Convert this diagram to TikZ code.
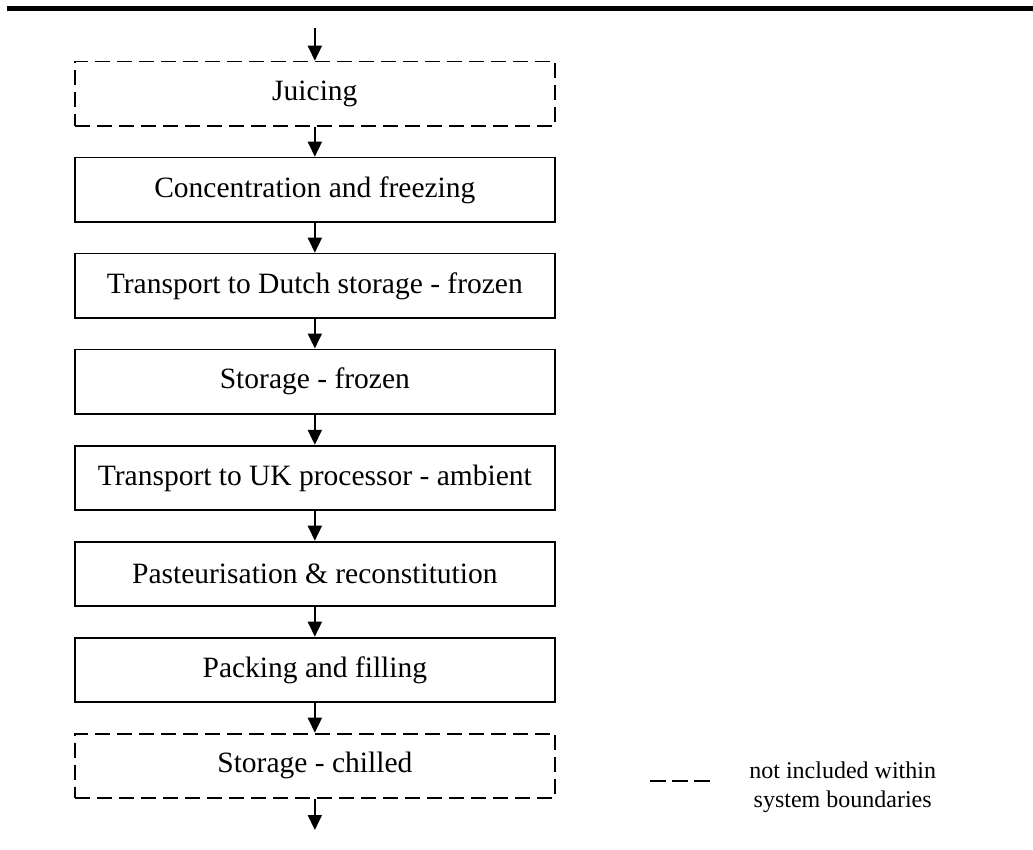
\documentclass[tikz,border=0pt]{standalone}
\usepackage{fontspec}
\setmainfont{Liberation Serif}
\usetikzlibrary{arrows.meta}
\begin{document}
\begin{tikzpicture}[x=1pt,y=-1pt,
  stepbox/.style={draw, line width=1.8pt, minimum width=480.3pt, minimum height=64.5pt,
    inner sep=0pt, anchor=north, font=\fontsize{29.5}{34}\selectfont},
  outbox/.style={stepbox, dash pattern=on 15pt off 7pt},
  flow/.style={line width=1.8pt, -{Triangle[length=15pt,width=14pt]}}]
\useasboundingbox (0,0) rectangle (1033,850);
\fill (7,6) rectangle (1033,11);
\node[outbox]  (b1) at (314.85,60.7)  {Juicing};
\node[stepbox] (b2) at (314.85,156.7) {Concentration and freezing};
\node[stepbox] (b3) at (314.85,252.7) {Transport to Dutch storage - frozen};
\node[stepbox] (b4) at (314.85,348.5) {Storage - frozen};
\node[stepbox] (b5) at (314.85,444.8) {Transport to UK processor - ambient};
\node[stepbox] (b6) at (314.85,540.7) {Pasteurisation \& reconstitution};
\node[stepbox] (b7) at (314.85,636.7) {Packing and filling};
\node[outbox]  (b8) at (314.85,732.7) {Storage - chilled};
\coordinate (in) at (314.85,28);
\coordinate (out) at (314.85,830);
\draw[flow] (in) -- (b1.north);
\draw[flow] (b1) -- (b2);
\draw[flow] (b2) -- (b3);
\draw[flow] (b3) -- (b4);
\draw[flow] (b4) -- (b5);
\draw[flow] (b5) -- (b6);
\draw[flow] (b6) -- (b7);
\draw[flow] (b7) -- (b8);
\draw[flow] (b8) -- (out);
\coordinate (l1) at (650,780.7);
\coordinate (l2) at (710,780.7);
\draw[line width=2pt, dash pattern=on 15.5pt off 6.7pt] (l1) -- (l2);
\node[align=center, font=\fontsize{24}{29}\selectfont, inner sep=0pt] (leg) at (842.7,787)
  {not included within\\system boundaries};
\end{tikzpicture}
\end{document}
